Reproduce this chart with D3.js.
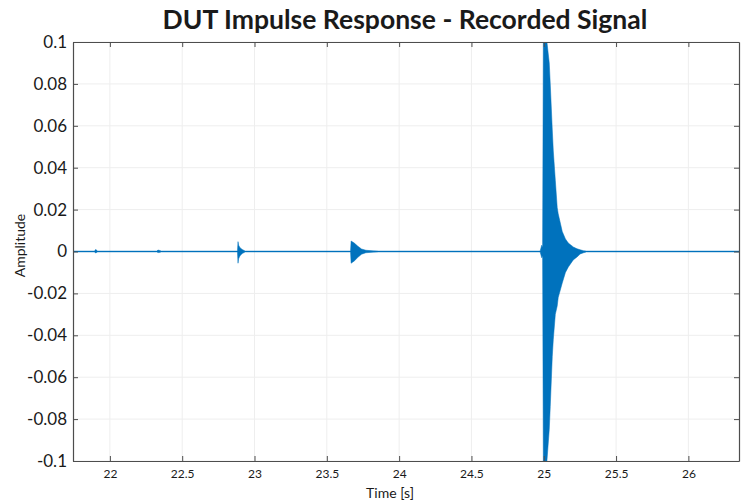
<!DOCTYPE html>
<html>
<head>
<meta charset="utf-8">
<script src="https://cdn.jsdelivr.net/npm/d3@7"></script>
<style>
  html, body { margin: 0; padding: 0; background: #ffffff; }
  svg { display: block; }
  text { font-family: Lato, "Open Sans", sans-serif; fill: #1a1a1a; }
</style>
</head>
<body>
<svg id="chart" width="748" height="501"></svg>
<script>
// Recorded impulse response, given as its envelope (upper / lower peak amplitude)
const timeS = [
  21.74, 21.895, 21.900, 21.905, 21.915,
  22.325, 22.332, 22.340, 22.355,
  22.882, 22.886, 22.890, 22.900, 22.915, 22.935,
  23.664, 23.668, 23.690, 23.715, 23.740, 23.770, 23.820, 23.860,
  24.975, 24.986, 24.992, 24.997, 25.022, 25.038, 25.045, 25.059, 25.066,
  25.080, 25.093, 25.100, 25.128, 25.150, 25.170, 25.204, 25.230, 25.252,
  25.275, 25.295, 26.35
];
const upperEnv = [
  0.0002, 0.0002, 0.0009, 0.0008, 0.0002,
  0.0002, 0.0007, 0.0006, 0.0002,
  0.0002, 0.0047, 0.0030, 0.0018, 0.0010, 0.0002,
  0.0002, 0.0050, 0.0040, 0.0025, 0.0012, 0.0006, 0.0003, 0.0002,
  0.0002, 0.0030, 0.0020, 0.1000, 0.1000, 0.0900, 0.0800, 0.0580, 0.0480,
  0.0340, 0.0210, 0.0180, 0.0095, 0.0060, 0.0040, 0.0022, 0.0013, 0.0008,
  0.0004, 0.0002, 0.0002
];
const lowerEnv = [
  -0.0002, -0.0002, -0.0007, -0.0006, -0.0002,
  -0.0002, -0.0005, -0.0005, -0.0002,
  -0.0002, -0.0056, -0.0035, -0.0020, -0.0010, -0.0002,
  -0.0002, -0.0056, -0.0045, -0.0028, -0.0013, -0.0006, -0.0003, -0.0002,
  -0.0002, -0.0030, -0.0020, -0.1000, -0.1000, -0.0850, -0.0740, -0.0500, -0.0420,
  -0.0300, -0.0260, -0.0220, -0.0150, -0.0100, -0.0074, -0.0040, -0.0026, -0.0012,
  -0.0006, -0.0002, -0.0002
];

const xTickValues = [22, 22.5, 23, 23.5, 24, 24.5, 25, 25.5, 26];
const xTickLabels = ["22", "22.5", "23", "23.5", "24", "24.5", "25", "25.5", "26"];
const yTickValues = [-0.1, -0.08, -0.06, -0.04, -0.02, 0, 0.02, 0.04, 0.06, 0.08, 0.1];
const yTickLabels = ["-0.1", "-0.08", "-0.06", "-0.04", "-0.02", "0", "0.02", "0.04", "0.06", "0.08", "0.1"];

const titleText = "DUT Impulse Response - Recorded Signal";
const xLabelText = "Time [s]";
const yLabelText = "Amplitude";

const svg = d3.select("#chart");
const L = 73, R = 739, T = 42, B = 461;
const W = R - L, H = B - T;

const x = d3.scaleLinear().domain([21.745, 26.35]).range([L, R]);
const y = d3.scaleLinear().domain([-0.1, 0.1]).range([B, T]);

// grid lines
const grid = svg.append("g").attr("class", "grid");
grid.selectAll("line.gx").data(xTickValues).enter().append("line")
  .attr("x1", d => x(d)).attr("x2", d => x(d)).attr("y1", T).attr("y2", B)
  .attr("stroke", "#eeeeee").attr("stroke-width", 1);
grid.selectAll("line.gy").data(yTickValues).enter().append("line")
  .attr("x1", L).attr("x2", R).attr("y1", d => y(d)).attr("y2", d => y(d))
  .attr("stroke", "#eeeeee").attr("stroke-width", 1);

// signal
svg.append("defs").append("clipPath").attr("id", "plotclip")
  .append("rect").attr("x", L).attr("y", T).attr("width", W).attr("height", H);

const pts = timeS.map((t, i) => ({ t, hi: upperEnv[i], lo: lowerEnv[i] }));
const area = d3.area()
  .x(d => x(d.t))
  .y0(d => y(d.lo))
  .y1(d => y(d.hi));

svg.append("path")
  .datum(pts)
  .attr("clip-path", "url(#plotclip)")
  .attr("d", area)
  .attr("fill", "#0072BD")
  .attr("stroke", "#0072BD")
  .attr("stroke-width", 0.5)
  .attr("stroke-linejoin", "round");

// axes (ticks pointing inward, box on)
const axisColor = "#4d4d4d";
const xFmt = d => xTickLabels[xTickValues.indexOf(d)];
const yFmt = d => yTickLabels[yTickValues.indexOf(d)];

const gxB = svg.append("g").attr("transform", `translate(0,${B})`)
  .call(d3.axisBottom(x).tickValues(xTickValues).tickFormat(xFmt)
    .tickSizeInner(-5).tickSizeOuter(0).tickPadding(8));
const gxT = svg.append("g").attr("transform", `translate(0,${T})`)
  .call(d3.axisTop(x).tickValues(xTickValues).tickFormat("")
    .tickSizeInner(-5).tickSizeOuter(0));
const gyL = svg.append("g").attr("transform", `translate(${L},0)`)
  .call(d3.axisLeft(y).tickValues(yTickValues).tickFormat(yFmt)
    .tickSizeInner(-5).tickSizeOuter(0).tickPadding(6));
const gyR = svg.append("g").attr("transform", `translate(${R},0)`)
  .call(d3.axisRight(y).tickValues(yTickValues).tickFormat("")
    .tickSizeInner(-5).tickSizeOuter(0));

[gxB, gxT, gyL, gyR].forEach(g => {
  g.select(".domain").attr("stroke", axisColor).attr("stroke-width", 1.2);
  g.selectAll(".tick line").attr("stroke", axisColor).attr("stroke-width", 1);
});
gxB.selectAll(".tick text").style("font-size", "12px").attr("fill", "#1a1a1a");
gyL.selectAll(".tick text").style("font-size", "17px").attr("fill", "#1a1a1a");

// labels
svg.append("text")
  .attr("x", (L + R) / 2 - 16).attr("y", 498)
  .attr("text-anchor", "middle")
  .style("font-size", "14px")
  .text(xLabelText);

svg.append("text")
  .attr("transform", `translate(25,${(T + B) / 2 - 6}) rotate(-90)`)
  .attr("text-anchor", "middle")
  .style("font-size", "14px")
  .text(yLabelText);

const title = svg.append("text")
  .attr("x", 405).attr("y", 29)
  .attr("text-anchor", "middle")
  .style("font-size", "25px")
  .style("font-weight", "bold")
  .text(titleText);
// fit the title to its intended width
const tw = title.node().getComputedTextLength();
title.style("font-size", (25 * 485 / tw).toFixed(2) + "px");
</script>
</body>
</html>
